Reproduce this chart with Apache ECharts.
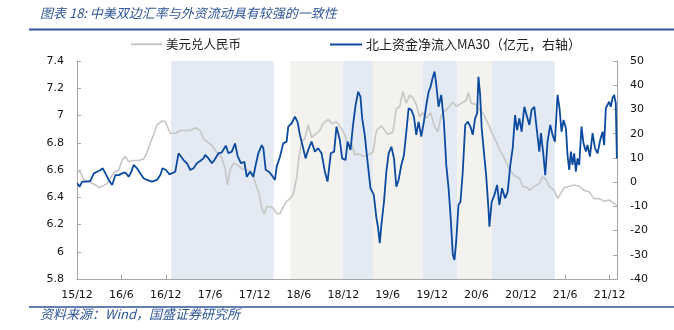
<!DOCTYPE html>
<html>
<head>
<meta charset="utf-8">
<script src="https://cdn.jsdelivr.net/npm/echarts@6/dist/echarts.min.js"></script>
<style>
html,body{margin:0;padding:0;background:#fff;}
#c{width:674px;height:330px;}
</style>
</head>
<body>
<div id="c"></div>
<script>
// months since 2015-12
const fxMonths = [0.0,0.47,0.92,1.82,2.49,2.94,3.40,4.07,4.52,4.96,5.64,6.09,6.54,6.98,7.66,8.33,9.01,9.47,9.91,10.36,10.81,11.49,11.93,12.61,13.28,13.96,14.63,15.31,15.98,16.65,17.10,17.56,18.23,18.90,19.58,20.02,20.33,20.70,21.14,21.60,22.27,22.95,23.62,24.07,24.65,24.97,25.32,25.65,26.09,26.53,26.99,27.44,27.88,28.34,28.79,29.23,29.69,30.00,30.36,30.81,31.25,31.71,32.16,32.83,33.28,33.95,34.49,35.08,35.66,36.20,36.65,37.11,37.55,38.00,38.67,39.34,40.02,40.48,41.15,41.60,42.04,42.71,43.17,43.62,44.06,44.52,44.97,45.41,45.87,46.31,46.76,47.22,47.80,48.34,48.78,49.24,49.69,50.36,50.81,51.26,51.94,52.61,52.92,53.28,53.96,54.40,54.85,55.31,55.75,56.20,56.66,57.10,57.55,58.00,58.45,59.12,59.80,60.24,60.92,61.15,61.82,62.50,62.94,63.40,63.84,64.52,64.96,65.42,65.86,66.54,67.21,67.89,68.56,69.23,69.91,70.59,71.26,71.93,72.61,73.0];
const fxRate = [6.60,6.58,6.53,6.51,6.49,6.47,6.48,6.50,6.54,6.58,6.60,6.67,6.70,6.66,6.67,6.67,6.68,6.73,6.80,6.86,6.93,6.96,6.955,6.87,6.87,6.89,6.89,6.89,6.91,6.89,6.83,6.81,6.78,6.73,6.69,6.61,6.49,6.60,6.65,6.64,6.61,6.60,6.59,6.51,6.42,6.32,6.275,6.33,6.33,6.32,6.28,6.28,6.33,6.37,6.39,6.42,6.54,6.69,6.81,6.83,6.93,6.84,6.86,6.89,6.94,6.97,6.94,6.955,6.91,6.86,6.77,6.80,6.71,6.72,6.70,6.71,6.73,6.89,6.925,6.89,6.86,6.88,7.05,7.065,7.175,7.09,7.15,7.13,7.08,6.99,7.02,6.98,7.02,6.92,6.88,7.00,7.03,7.065,7.10,7.065,7.09,7.11,7.17,7.09,7.08,7.04,7.02,6.97,6.92,6.86,6.81,6.75,6.71,6.66,6.60,6.56,6.54,6.48,6.47,6.45,6.48,6.50,6.55,6.53,6.48,6.45,6.39,6.43,6.47,6.48,6.49,6.48,6.45,6.44,6.39,6.39,6.37,6.38,6.355,6.34];

const nbMonths = [0.03,0.34,0.70,1.38,1.82,2.27,2.72,3.17,3.48,3.84,4.29,4.75,5.19,5.64,6.09,6.54,6.98,7.35,7.66,8.12,8.56,9.01,9.47,10.14,10.81,11.26,11.57,12.03,12.51,13.28,13.73,13.96,14.40,14.86,15.31,15.75,16.21,16.65,17.10,17.33,17.77,18.23,18.58,19.12,19.58,20.12,20.47,20.93,21.37,21.73,22.18,22.62,22.95,23.39,23.84,24.16,24.51,24.97,25.19,25.51,25.96,26.32,26.76,26.99,27.44,27.88,28.34,28.56,29.02,29.46,29.82,30.13,30.58,30.90,31.25,31.71,32.16,32.60,33.06,33.51,33.87,34.31,34.76,35.08,35.53,35.84,36.30,36.58,36.98,37.29,37.66,38.01,38.32,38.55,38.90,39.23,39.67,40.12,40.48,40.71,40.93,41.15,41.50,41.82,42.13,42.50,42.85,43.17,43.48,43.85,44.20,44.52,44.83,45.20,45.55,45.87,46.18,46.54,46.89,47.22,47.53,47.80,48.11,48.34,48.57,48.88,49.24,49.60,49.92,50.23,50.49,50.81,51.03,51.26,51.57,51.84,52.15,52.48,52.83,53.19,53.50,53.82,54.09,54.27,54.50,54.71,54.98,55.31,55.62,55.75,56.06,56.43,56.79,57.10,57.46,57.87,58.22,58.58,58.90,59.22,59.49,59.80,60.11,60.47,60.84,61.15,61.46,61.82,62.19,62.50,62.72,63.03,63.30,63.61,63.98,64.29,64.61,64.96,65.23,65.50,65.77,66.10,66.31,66.54,66.77,66.98,67.21,67.44,67.66,67.89,68.20,68.47,68.79,69.01,69.34,69.70,70.02,70.37,70.73,71.05,71.26,71.49,71.70,71.93,72.16,72.38,72.61,72.84,72.98];
const nbFlow = [-0.5,-1.9,0.2,0.2,0.5,3.6,4.3,5.0,5.7,3.6,0.9,-1.2,2.9,2.9,3.6,4.0,2.2,4.3,7.1,5.7,3.6,1.6,0.9,0.2,0.9,2.9,5.7,5.0,3.2,4.3,11.9,12.6,9.1,7.8,5.0,5.7,7.8,8.7,9.8,11.2,9.8,7.8,9.1,11.9,12.3,15.0,11.9,12.6,16.0,10.5,7.8,8.4,2.2,4.3,2.2,7.1,11.9,15.3,14.0,5.0,4.3,2.9,0.9,6.4,10.5,16.0,16.7,22.9,24.3,27.0,24.9,19.5,14.0,9.8,13.3,16.7,12.6,14.0,11.9,4.3,0.2,11.9,12.6,22.9,17.4,9.8,9.1,16.7,13.3,22.9,31.8,37.3,35.3,26.3,19.5,9.8,-2.5,-5.3,-14.9,-19.0,-25.2,-17.7,-8.1,4.3,11.9,14.6,9.8,-1.9,0.9,7.1,11.2,20.8,30.5,29.8,27.0,19.5,24.9,18.8,24.9,31.8,37.3,39.4,43.5,45.6,40.1,31.1,36.0,24.9,7.1,-2.5,-13.6,-30.1,-32.1,-24.6,-9.4,-8.1,4.3,23.6,24.9,22.9,19.5,26.3,28.4,43.5,36.0,22.2,13.3,2.9,-10.8,-18.4,-8.1,-5.3,-1.2,-9.4,-2.5,-6.7,-4.0,7.1,14.0,27.7,21.5,26.3,20.8,31.1,27.0,23.6,29.8,31.1,20.8,12.6,20.2,11.9,2.9,16.7,23.6,19.5,16.7,36.0,30.5,20.8,25.6,22.2,11.2,5.0,12.6,7.1,11.9,4.3,9.8,7.1,22.9,16.0,12.6,15.3,10.5,20.2,14.0,11.9,17.4,20.8,15.3,30.5,31.8,33.2,31.1,34.6,36.0,32.5,9.8];

// shaded periods (months since 2015-12)
const bandsBlue = [[12.73,26.6],[35.9,40.0],[46.7,51.4],[56.1,64.6]];
const bandsBeige = [[28.85,35.9],[40.0,46.7],[51.4,56.1]];

const leftTicks = {min:5.8, max:7.4, interval:0.2};
const rightTicks = {min:-40, max:50, interval:10};
const xTicks = {min:0, max:73, interval:6};

const nameFx = '美元兑人民币';
const nameNb = '北上资金净流入MA30（亿元，右轴）';
const titleText = '图表 18: 中美双边汇率与外资流动具有较强的一致性';
const sourceText = '资料来源：Wind，国盛证券研究所';

const BLUE_BAND = '#E4EAF3';
const BEIGE_BAND = '#F3F2EE';
const GRAY = '#C6C6C6';
const NAVY = '#0B4A9F';
const AXIS = '#A6A6A6';
const HEAD = '#2F5597';

const areaData = [];
bandsBlue.forEach(b => areaData.push([{xAxis:b[0], itemStyle:{color:BLUE_BAND}}, {xAxis:b[1]}]));
bandsBeige.forEach(b => areaData.push([{xAxis:b[0], itemStyle:{color:BEIGE_BAND}}, {xAxis:b[1]}]));

const fxData = fxMonths.map((m,i)=>[m, fxRate[i]]);
const nbData = nbMonths.map((m,i)=>[m, nbFlow[i]]);

function fmtMonth(v){
  const m = Math.round(v);
  const total = 11 + m;
  const y = 2015 + Math.floor(total/12);
  const mo = (total % 12) + 1;
  return String(y).slice(2) + '/' + mo;
}

const chart = echarts.init(document.getElementById('c'), null, {renderer:'canvas'});
const labelFont = {fontFamily:'DejaVu Sans', fontSize:11, color:'#111'};
chart.setOption({
  animation:false,
  backgroundColor:'#fff',
  title:{
    text:titleText, left:40, top:7, padding:0,
    textStyle:{fontFamily:'Noto Sans CJK SC', fontSize:13, fontStyle:'italic', fontWeight:'normal', color:HEAD}
  },
  legend:[
    {data:[nameFx], left:131, top:38, padding:0, icon:'rect', itemWidth:31, itemHeight:2,
     textStyle:{fontFamily:'Noto Sans CJK SC', fontSize:12.5, color:'#222', padding:[0,0,0,-1]}},
    {data:[nameNb], left:330, top:38, padding:0, icon:'rect', itemWidth:32, itemHeight:2,
     textStyle:{fontFamily:'Noto Sans CJK SC', fontSize:13, color:'#222', padding:[0,0,0,-1]}}
  ],
  grid:{left:77, right:57, top:61, bottom:51, containLabel:false},
  xAxis:{
    type:'value', min:xTicks.min, max:xTicks.max, interval:xTicks.interval,
    axisLine:{show:true, onZero:false, lineStyle:{color:AXIS, width:1}},
    axisTick:{show:true, inside:true, length:4, lineStyle:{color:AXIS}},
    axisLabel:Object.assign({margin:11, showMaxLabel:false, formatter:fmtMonth}, labelFont),
    splitLine:{show:false}
  },
  yAxis:[
    {type:'value', position:'left', min:leftTicks.min, max:leftTicks.max, interval:leftTicks.interval,
     axisLine:{show:true, onZero:false, lineStyle:{color:AXIS}},
     axisTick:{show:true, inside:true, length:4, lineStyle:{color:AXIS}},
     axisLabel:Object.assign({margin:13, formatter:v=>String(Math.round(v*10)/10)}, labelFont),
     splitLine:{show:false}},
    {type:'value', position:'right', min:rightTicks.min, max:rightTicks.max, interval:rightTicks.interval,
     axisLine:{show:true, onZero:false, lineStyle:{color:AXIS}},
     axisTick:{show:true, inside:true, length:4, lineStyle:{color:AXIS}},
     axisLabel:Object.assign({margin:13}, labelFont),
     splitLine:{show:false}}
  ],
  series:[
    {type:'line', name:'bands', data:[], z:1, silent:true,
     markArea:{silent:true, data:areaData}},
    {type:'line', name:nameFx, yAxisIndex:0, data:fxData, showSymbol:false, z:3,
     itemStyle:{color:GRAY}, lineStyle:{color:GRAY, width:1.6}},
    {type:'line', name:nameNb, yAxisIndex:1, data:nbData, showSymbol:false, z:4,
     itemStyle:{color:NAVY}, lineStyle:{color:NAVY, width:1.8}}
  ],
  graphic:[
    {type:'line', shape:{x1:29, y1:29.5, x2:674, y2:29.5}, style:{stroke:HEAD, lineWidth:2}},
    {type:'line', shape:{x1:29, y1:307, x2:674, y2:307}, style:{stroke:HEAD, lineWidth:1.5}},
    {type:'text', left:40, top:308, style:{text:sourceText, fontFamily:'Noto Sans CJK SC', fontSize:13, fontStyle:'italic', fill:HEAD}}
  ]
});
</script>
</body>
</html>
